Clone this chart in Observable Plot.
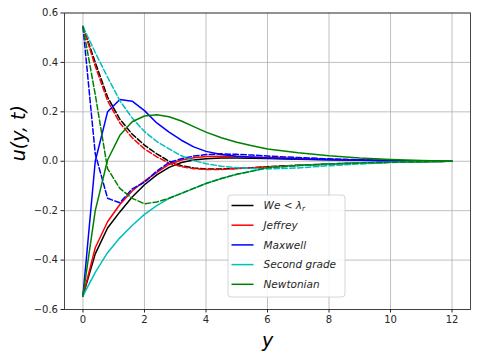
<!DOCTYPE html>
<html><head><meta charset="utf-8">
<script src="https://cdn.jsdelivr.net/npm/d3@7"></script>
<script src="https://cdn.jsdelivr.net/npm/@observablehq/plot@0.6"></script>
<style>body{margin:0;background:#fff}#chart{position:relative;width:480px;height:355px}</style>
</head><body><div id="chart"></div>
<script>
// position y (shared abscissa)
const yPos = [0,0.4,0.8,1.2,1.6,2.0,2.4,2.8,3.2,3.6,4.0,4.5,5,5.5,6,7,8,9,10,11,12];

const weSolid       = [-0.545,-0.375,-0.27,-0.205,-0.145,-0.095,-0.055,-0.025,-0.005,0.005,0.01,0.013,0.013,0.012,0.011,0.008,0.006,0.004,0.002,0.001,0];
const weDashed      = [0.545,0.40,0.26,0.17,0.11,0.065,0.03,0.0,-0.018,-0.027,-0.031,-0.031,-0.029,-0.026,-0.022,-0.016,-0.011,-0.007,-0.004,-0.002,0];
const jeffreySolid  = [-0.545,-0.35,-0.245,-0.175,-0.12,-0.08,-0.045,-0.013,0.005,0.014,0.019,0.02,0.019,0.017,0.015,0.011,0.008,0.005,0.003,0.001,0];
const jeffreyDashed = [0.545,0.385,0.245,0.155,0.095,0.05,0.018,-0.008,-0.022,-0.03,-0.033,-0.033,-0.03,-0.027,-0.023,-0.017,-0.012,-0.008,-0.004,-0.002,0];
const maxwellSolid  = [-0.545,0.0,0.2,0.25,0.243,0.205,0.155,0.118,0.085,0.058,0.04,0.027,0.02,0.016,0.013,0.009,0.006,0.004,0.002,0.001,0];
const maxwellDashed = [0.545,0.03,-0.15,-0.168,-0.112,-0.085,-0.04,-0.005,0.01,0.021,0.027,0.03,0.028,0.025,0.021,0.015,0.01,0.006,0.003,0.001,0];
const secondSolid   = [-0.545,-0.45,-0.37,-0.31,-0.26,-0.215,-0.18,-0.15,-0.13,-0.11,-0.09,-0.07,-0.053,-0.04,-0.026,-0.017,-0.011,-0.007,-0.004,-0.002,0];
const secondDashed  = [0.545,0.44,0.34,0.245,0.175,0.12,0.08,0.05,0.022,0.003,-0.01,-0.02,-0.026,-0.029,-0.031,-0.027,-0.018,-0.011,-0.005,-0.002,0];
const newtonSolid   = [-0.545,-0.2,0.005,0.105,0.16,0.183,0.188,0.18,0.163,0.14,0.118,0.095,0.077,0.063,0.05,0.034,0.022,0.013,0.007,0.003,0];
const newtonDashed  = [0.545,0.27,-0.03,-0.11,-0.15,-0.172,-0.165,-0.15,-0.13,-0.11,-0.09,-0.07,-0.053,-0.04,-0.026,-0.017,-0.011,-0.007,-0.004,-0.002,0];

const seriesNames  = ["We<λr","Jeffrey","Maxwell","Second grade","Newtonian"];
const seriesColors = ["#000000","#ff0000","#0000ff","#00bfbf","#008000"];
const solidSets  = [weSolid, jeffreySolid, maxwellSolid, secondSolid, newtonSolid];
const dashedSets = [weDashed, jeffreyDashed, maxwellDashed, secondDashed, newtonDashed];

const xTicks = [0,2,4,6,8,10,12];
const yTicks = [-0.6,-0.4,-0.2,0.0,0.2,0.4,0.6];

const toRows = vals => yPos.map((x,i) => ({x, v: vals[i]}));
const lineMarks = [];
seriesNames.forEach((name, k) => {
  lineMarks.push(Plot.line(toRows(solidSets[k]), {x:"x", y:"v", stroke: seriesColors[k], strokeWidth:1.5}));
  lineMarks.push(Plot.line(toRows(dashedSets[k]), {x:"x", y:"v", stroke: seriesColors[k], strokeWidth:1.5, strokeDasharray:"5.5,2.4"}));
});

const fmtY = d => d.toFixed(1).replace("-", "\u2212");

const plot = Plot.plot({
  width: 480, height: 355,
  marginLeft: 64, marginRight: 10, marginTop: 12.5, marginBottom: 46,
  style: {fontFamily: "'DejaVu Sans', sans-serif", fontSize: "10px", background: "#fff", color: "#262626"},
  x: {domain: [-0.6, 12.6]},
  y: {domain: [-0.6, 0.6]},
  marks: [
    Plot.gridX(xTicks, {stroke: "#b0b0b0", strokeOpacity: 1, strokeWidth: 0.8}),
    Plot.gridY(yTicks, {stroke: "#b0b0b0", strokeOpacity: 1, strokeWidth: 0.8}),
    ...lineMarks,
    Plot.frame({stroke: "#333", strokeWidth: 0.9}),
    Plot.axisX(xTicks, {tickSize: 3.5, tickPadding: 3, tickFormat: d => String(d), label: null, fontSize: 10}),
    Plot.axisY(yTicks, {tickSize: 3.5, tickPadding: 3, tickFormat: fmtY, label: null, fontSize: 10}),
    Plot.text(["u(y, t)"], {text: d => d, frameAnchor: "left", dx: -46, rotate: -90, fontSize: 19, fontStyle: "italic", fill: "#000"}),
    Plot.text(["y"], {text: d => d, frameAnchor: "bottom", dy: 31, lineAnchor: "middle", fontSize: 19, fontStyle: "italic", fill: "#000"})
  ]
});

// legend
const svg = d3.select(plot);
const lg = svg.append("g").attr("transform", "translate(228,195)");
lg.append("rect").attr("width", 117).attr("height", 102).attr("rx", 3)
  .attr("fill", "#fff").attr("fill-opacity", 0.85).attr("stroke", "#cccccc").attr("stroke-width", 0.8);
seriesNames.forEach((name, i) => {
  const yy = 10.5 + i * 19.7;
  lg.append("line").attr("x1", 3.5).attr("x2", 25.5).attr("y1", yy).attr("y2", yy)
    .attr("stroke", seriesColors[i]).attr("stroke-width", 1.5);
  const t = lg.append("text").attr("x", 35.5).attr("y", yy).attr("dy", "0.35em")
    .attr("text-anchor", "start")
    .attr("font-size", 10.5).attr("font-family", "'DejaVu Sans', sans-serif").attr("fill", "#262626");
  if (i === 0) {
    t.append("tspan").attr("font-style", "italic").text("We");
    t.append("tspan").text(" < ");
    t.append("tspan").attr("font-style", "italic").text("λ");
    t.append("tspan").attr("font-style", "italic").attr("font-size", 7.5).attr("dy", "0.25em").text("r");
  } else {
    t.attr("font-style", "italic").text(name);
  }
});

document.getElementById("chart").appendChild(plot);
</script>
</body></html>
